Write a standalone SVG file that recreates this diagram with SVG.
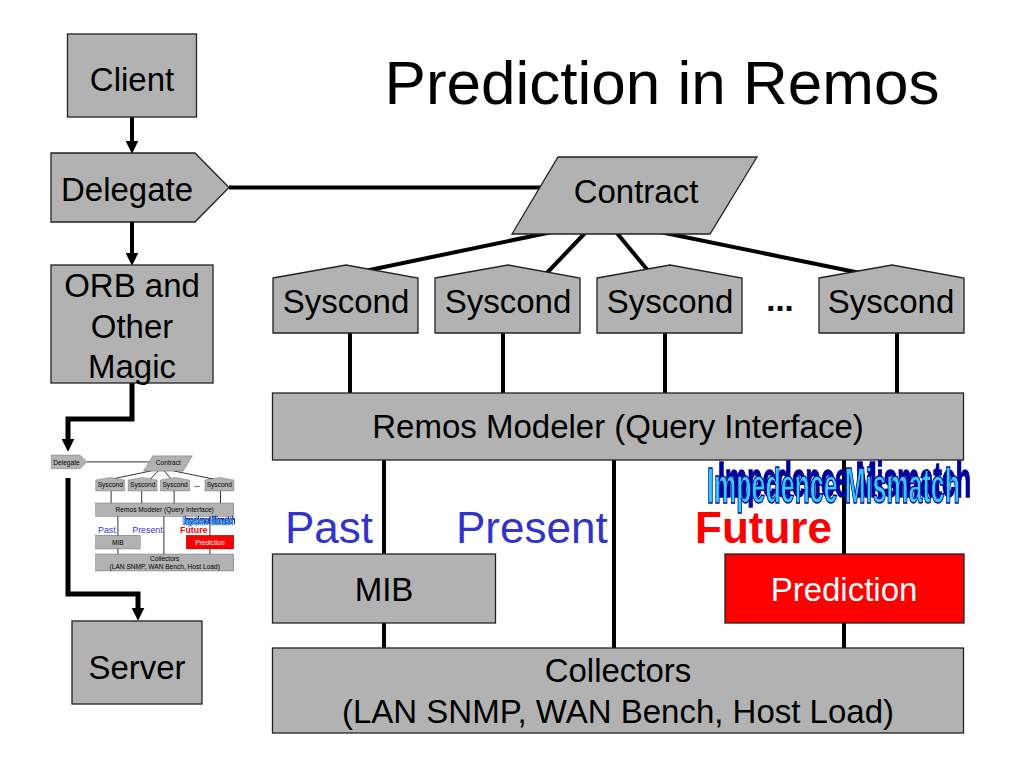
<svg xmlns="http://www.w3.org/2000/svg" xmlns:xlink="http://www.w3.org/1999/xlink" width="1024" height="768" viewBox="0 0 1024 768">
  <style>
    text { font-family: "Liberation Sans", Arial, Helvetica, sans-serif; }
    .box { fill: #b2b2b2; stroke: #222222; stroke-width: 1.3; }
    .red { fill: #ff0000; stroke: #222222; stroke-width: 1.3; }
    .lbl { font-size: 33px; fill: #000000; text-anchor: middle; }
    .wlbl { font-size: 33px; fill: #ffffff; text-anchor: middle; }
    .conn { stroke: #000000; stroke-width: 4; fill: none; }
    .thick { stroke: #000000; stroke-width: 5; fill: none; }
    .blue { font-size: 44px; fill: #3333cc; }
    .future { font-size: 44px; fill: #ff0000; font-weight: bold; }
    .wa { font-size: 28px; font-weight: bold; }
  </style>
  <defs>
    <marker id="arrow" markerUnits="userSpaceOnUse" markerWidth="13" markerHeight="13" viewBox="0 0 12 12" refX="4" refY="6" orient="auto">
      <path d="M0,0 L12,6 L0,12 z" fill="#000000"/>
    </marker>
    <filter id="extrude" x="-10%" y="-60%" width="125%" height="220%">
      <feOffset in="SourceAlpha" dx="11" dy="-6" result="off"/>
      <feFlood flood-color="#000099" result="col"/>
      <feComposite in="col" in2="off" operator="in" result="shadow"/>
      <feMerge>
        <feMergeNode in="shadow"/>
        <feMergeNode in="SourceGraphic"/>
      </feMerge>
    </filter>
  </defs>
  <rect width="1024" height="768" fill="#ffffff"/>

  <text id="title" x="662" y="104" font-size="62" text-anchor="middle" fill="#000000">Prediction in Remos</text>

  <g id="core">
    <g id="connectors">
      <line class="conn" x1="229" y1="187.5" x2="560" y2="187.5"/>
      <line class="conn" x1="552" y1="232" x2="360" y2="272"/>
      <line class="conn" x1="586" y1="232" x2="544" y2="276"/>
      <line class="conn" x1="616" y1="232" x2="650" y2="273"/>
      <line class="conn" x1="660" y1="232" x2="865" y2="274"/>
      <line class="conn" x1="350" y1="330" x2="350" y2="395"/>
      <line class="conn" x1="503" y1="330" x2="503" y2="395"/>
      <line class="conn" x1="665" y1="330" x2="665" y2="395"/>
      <line class="conn" x1="897" y1="330" x2="897" y2="395"/>
      <line class="conn" x1="384" y1="458" x2="384" y2="650"/>
      <line class="conn" x1="614" y1="458" x2="614" y2="650"/>
      <line class="conn" x1="844" y1="458" x2="844" y2="650"/>
    </g>
    <g id="delegate">
      <polygon class="box" points="51,153 195,153 229,187.5 195,222 51,222"/>
      <text x="61" y="201" font-size="33" fill="#000000">Delegate</text>
    </g>
    <g id="contract">
      <polygon class="box" points="558,157 757,157 710,234 512,234"/>
      <text class="lbl" x="636" y="203">Contract</text>
    </g>
    <g id="syscond1">
      <polygon class="box" points="273,278 346,265 418,278 418,333 273,333"/>
      <text class="lbl" x="346" y="313">Syscond</text>
    </g>
    <g id="syscond2">
      <polygon class="box" points="435,278 508,265 580,278 580,333 435,333"/>
      <text class="lbl" x="508" y="313">Syscond</text>
    </g>
    <g id="syscond3">
      <polygon class="box" points="597,278 670,265 742,278 742,333 597,333"/>
      <text class="lbl" x="670" y="313">Syscond</text>
    </g>
    <text id="ellipsis" x="780" y="311" font-size="33" font-weight="bold" text-anchor="middle" fill="#000000">...</text>
    <g id="syscond4">
      <polygon class="box" points="819,278 892,265 964,278 964,333 819,333"/>
      <text class="lbl" x="891" y="313">Syscond</text>
    </g>
    <g id="modeler">
      <rect class="box" x="272.5" y="393" width="691" height="67"/>
      <text class="lbl" x="618" y="438">Remos Modeler (Query Interface)</text>
    </g>
    <text id="past" class="blue" x="285" y="543">Past</text>
    <text id="present" class="blue" x="456" y="543">Present</text>
    <text id="future" class="future" x="695" y="543">Future</text>
    <g id="impedence" filter="url(#extrude)">
      <text class="wa" transform="translate(707,503) scale(1,1.8)" x="0" y="0" fill="#33ccff" stroke="#000099" stroke-width="0.8" textLength="253" lengthAdjust="spacingAndGlyphs">Impedence Mismatch</text>
    </g>
    <g id="mib">
      <rect class="box" x="272.5" y="554" width="223" height="69"/>
      <text class="lbl" x="384" y="601">MIB</text>
    </g>
    <g id="prediction">
      <rect class="red" x="725" y="554" width="239" height="69"/>
      <text class="wlbl" x="844" y="601">Prediction</text>
    </g>
    <g id="collectors">
      <rect class="box" x="272.5" y="648" width="691" height="85"/>
      <text class="lbl" x="618" y="682">Collectors</text>
      <text class="lbl" x="618" y="723">(LAN SNMP, WAN Bench, Host Load)</text>
    </g>
  </g>

  <g id="connectors-left">
    <line class="conn" x1="132" y1="117" x2="132" y2="145" marker-end="url(#arrow)"/>
    <line class="conn" x1="132" y1="222" x2="132" y2="257" marker-end="url(#arrow)"/>
    <polyline class="thick" points="132,383 132,419 68,419 68,443" marker-end="url(#arrow)"/>
    <polyline class="thick" points="68,478 68,594 138,594 138,612" marker-end="url(#arrow)"/>
  </g>

  <g id="client">
    <rect class="box" x="67.5" y="34" width="129" height="83"/>
    <text class="lbl" x="132" y="91">Client</text>
  </g>
  <g id="orb">
    <rect class="box" x="51" y="265" width="162" height="118"/>
    <text class="lbl" x="132" y="297">ORB and</text>
    <text class="lbl" x="132" y="338">Other</text>
    <text class="lbl" x="132" y="378">Magic</text>
  </g>
  <g id="server">
    <rect class="box" x="72" y="621" width="130" height="83"/>
    <text class="lbl" x="137" y="679">Server</text>
  </g>

  <g id="thumbnail">
    <use xlink:href="#core" href="#core" transform="translate(41.1,424.4) scale(0.2)"/>
  </g>
</svg>
